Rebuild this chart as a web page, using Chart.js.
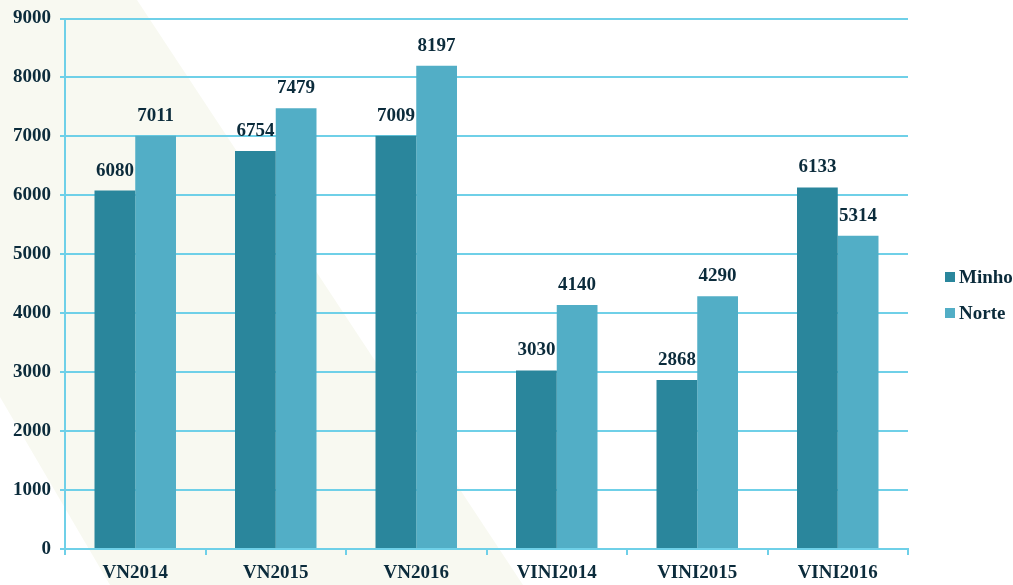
<!DOCTYPE html>
<html>
<head>
<meta charset="utf-8">
<script src="https://cdn.jsdelivr.net/npm/chart.js@4.4.1/dist/chart.umd.min.js"></script>
<style>
  html, body { margin: 0; padding: 0; background: #ffffff; }
  #wrap { width: 1013px; height: 585px; }
</style>
</head>
<body>
<div id="wrap"><canvas id="barChart" width="1013" height="585"></canvas></div>
<script>
const categories = ['VN2014', 'VN2015', 'VN2016', 'VINI2014', 'VINI2015', 'VINI2016'];
const minho = [6080, 6754, 7009, 3030, 2868, 6133];
const norte = [7011, 7479, 8197, 4140, 4290, 5314];
const yTicks = [0, 1000, 2000, 3000, 4000, 5000, 6000, 7000, 8000, 9000];

const textColor = '#0b2b3b';
const gridColor = '#6fd0e8';
const serif = '"Liberation Serif", "Times New Roman", serif';

// pale diagonal band behind the chart
const bandPlugin = {
    id: 'band',
    beforeDraw(chart) {
        const ctx = chart.ctx;
        ctx.save();
        ctx.fillStyle = '#f8f9f1';
        ctx.beginPath();
        ctx.moveTo(0, 0);
        ctx.lineTo(137, 0);
        ctx.lineTo(523, 585);
        ctx.lineTo(110, 585);
        ctx.lineTo(0, 397);
        ctx.closePath();
        ctx.fill();
        ctx.restore();
    }
};

// value labels over each bar
const valueLabels = {
    id: 'valueLabels',
    afterDatasetsDraw(chart) {
        const ctx = chart.ctx;
        ctx.save();
        ctx.font = 'bold 19px ' + serif;
        ctx.fillStyle = textColor;
        ctx.textAlign = 'center';
        ctx.textBaseline = 'alphabetic';
        chart.data.datasets.forEach((ds, i) => {
            chart.getDatasetMeta(i).data.forEach((bar, j) => {
                ctx.fillText(ds.data[j], bar.x, bar.y - 15);
            });
        });
        ctx.restore();
    }
};

// legend on the right, small squares close to the text
const sideLegend = {
    id: 'sideLegend',
    afterDraw(chart) {
        const ctx = chart.ctx;
        const x = chart.chartArea.right + 37;
        ctx.save();
        ctx.font = 'bold 19px ' + serif;
        ctx.textBaseline = 'middle';
        ctx.textAlign = 'left';
        chart.data.datasets.forEach((ds, i) => {
            const y = 277 + i * 36;
            ctx.fillStyle = ds.backgroundColor;
            ctx.fillRect(x, y - 5, 10, 10);
            ctx.fillStyle = textColor;
            ctx.fillText(ds.label, x + 14, y + 1);
        });
        ctx.restore();
    }
};

new Chart(document.getElementById('barChart'), {
    type: 'bar',
    data: {
        labels: categories,
        datasets: [
            { label: 'Minho', data: minho, backgroundColor: '#2a869c', borderWidth: 0 },
            { label: 'Norte', data: norte, backgroundColor: '#52aec6', borderWidth: 0 }
        ]
    },
    options: {
        responsive: false,
        animation: false,
        devicePixelRatio: 1,
        layout: { padding: { top: 0, right: 105, bottom: 2, left: 4 } },
        datasets: { bar: { barPercentage: 1, categoryPercentage: 0.58 } },
        plugins: {
            legend: { display: false },
            tooltip: { enabled: false }
        },
        scales: {
            x: {
                afterFit(scale) { scale.height = 34; },
                grid: { drawOnChartArea: false, drawTicks: true, tickLength: 6, color: gridColor, lineWidth: 2 },
                border: { color: gridColor, width: 2 },
                ticks: { color: textColor, padding: 7, font: { family: serif, size: 19, weight: 'bold' } }
            },
            y: {
                min: 0,
                max: 9000,
                afterBuildTicks(axis) { axis.ticks = yTicks.map(v => ({ value: v })); },
                grid: { color: gridColor, lineWidth: 2, tickLength: 5 },
                border: { color: gridColor, width: 2 },
                ticks: {
                    color: textColor,
                    padding: 9,
                    font: { family: serif, size: 19, weight: 'bold', lineHeight: 1 },
                    callback: v => String(v)
                }
            }
        }
    },
    plugins: [bandPlugin, valueLabels, sideLegend]
});
</script>
</body>
</html>
